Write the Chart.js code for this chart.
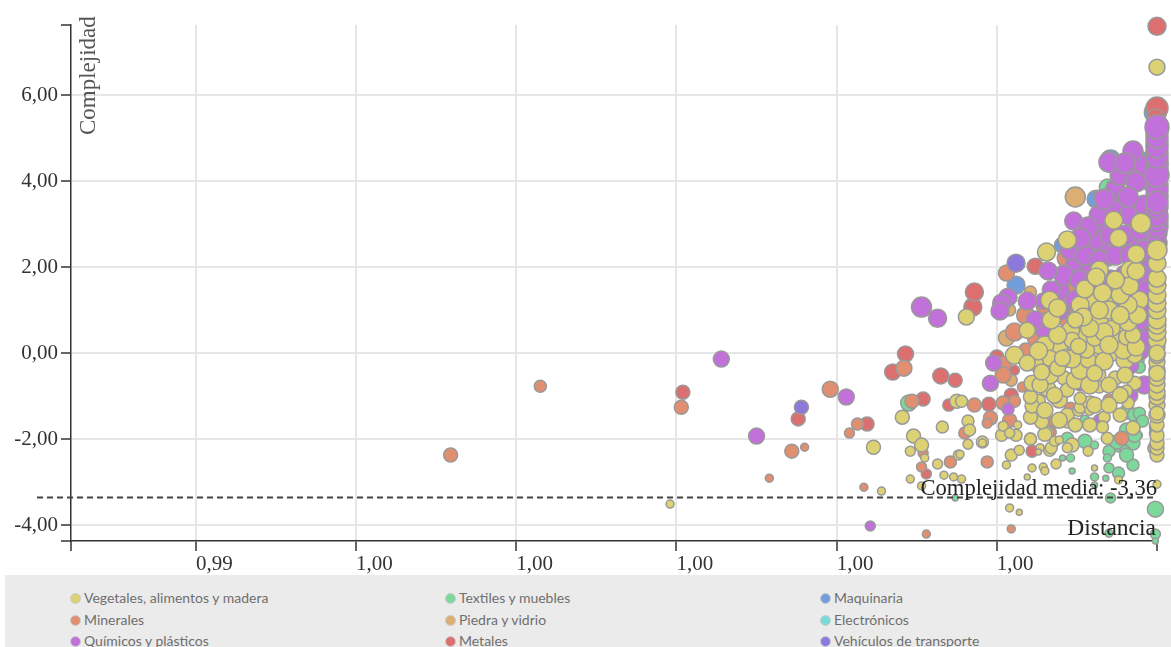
<!DOCTYPE html>
<html>
<head>
<meta charset="utf-8">
<script src="https://cdn.jsdelivr.net/npm/chart.js@4"></script>
<style>
  body { margin: 0; background: #fff; width: 1171px; height: 647px; overflow: hidden; position: relative; }
  #chart { position: absolute; left: 0; top: 0; }
  #legend { position: absolute; left: 5px; top: 575px; width: 1166px; height: 72px; background: #ebebeb; overflow: hidden;
    font: 14px Lato, "Noto Sans", sans-serif; color: #6f6f6f; }
  #legend div { position: absolute; white-space: nowrap; line-height: 16px; }
  #legend i { display: inline-block; width: 9px; height: 9px; border-radius: 50%; margin-right: 3px; border: 1px solid #ccc; vertical-align: -1px; }
</style>
</head>
<body>
<canvas id="chart" width="1171" height="575"></canvas>
<div id="legend"></div>
<script>
// valores: [distancia, complejidad, radio]
const categories = ["Vegetales, alimentos y madera", "Textiles y muebles", "Maquinaria", "Minerales", "Piedra y vidrio", "Electrónicos", "Químicos y plásticos", "Metales", "Vehículos de transporte"];
const colors = ["#dcd274", "#7cd99b", "#729fdc", "#e08f70", "#dcae74", "#7adada", "#c270da", "#dc7070", "#8d78dc"];
const drawOrder = [0, 7, 6, 3, 4, 8, 2, 5, 1];

const xTicks = [0.99422, 0.995, 0.996, 0.997, 0.998, 0.999, 1, 1.001];
const xLabels = ["", "0,99", "1,00", "1,00", "1,00", "1,00", "1,00", ""];
const yTicks = [7.63, 6, 4, 2, 0, -2, -4, -4.37];
const yLabels = ["", "6,00", "4,00", "2,00", "0,00", "-2,00", "-4,00", ""];
const meanComplexity = -3.36;

const vegetales = [
  [0.99796,-3.51,4],[0.99928,-3.21,4],[0.99946,-2.93,4],[0.99967,-2.84,4],[0.99973,-2.88,4],[0.99978,-2.93,4],
  [0.99963,-2.58,5],[0.99976,-2.37,5],[0.99977,-2.35,4],[0.99982,-2.12,5],[0.99991,-2.07,6],[0.99991,-2.09,4],
  [0.99946,-2.28,5],[0.99948,-1.93,7],[0.99953,-2.14,7],[0.99955,-2.44,4],[0.99966,-1.72,6],[0.99982,-1.58,6],
  [0.99983,-1.79,6],[0.99941,-1.49,7],[0.99975,-1.12,7],[0.99978,-1.12,6],[0.99981,0.84,8],[0.99923,-2.19,7],
  [0.99953,-3.09,4],[1.00008,-3.6,4],[1.00014,-3.7,3],[1.00003,-1.91,6],[1.00009,-2.37,6],[1.00006,-2.6,4],
  [1.00014,-2.26,5],[1.00019,-2.88,3],[1.00022,-2.67,4],[1.00029,-2.65,4],[1.0003,-2.74,4],[1.00037,-2.58,5],
  [1.00004,-1.7,5],[1.00013,-1.67,4],[1.00012,-1.91,6],[1.00008,-1.86,5],[1.00021,-2,6],[1.00031,-1.86,7],
  [1.00027,-2.2,4],[1.00033,-2.26,6],[1.00037,-2.07,4],[1.00026,-2.3,3],[1.00047,-2.14,7],[1.00044,-2.2,5],
  [1.00057,-2.28,5],[1.00061,-2.67,3],[1.00076,-2.95,4],[1.00034,-2.2,6],[1.00036,-2.05,5],[1.00039,-2.02,4],
  [1.00021,-2,6],[1.0003,-1.89,7],[1.00028,-1.6,7],[1.00021,-1.49,7],[1.00044,-1.6,6],[1.00044,-1.44,7],
  [1.00051,-1.33,6],[1.00052,-1.26,6],[1.00058,-1.16,7],[1.00058,-1.33,5],[1.00039,-1.09,8],[1.00026,-1.12,7],
  [1.00022,-1.23,7],[1.00021,-1.02,7],[1.00022,-0.7,8],[1.00031,-0.58,7],[1.00042,-0.58,7],[1.00032,-0.84,8],
  [1.00044,-0.86,7],[1.00052,-1.05,6],[1.00063,-0.51,8],[1.00064,-0.79,6],[1.00074,-0.58,7],[1.00086,-0.7,7],
  [1.00076,-0.91,6],[1.00067,-1.49,6],[1.00077,-1.44,7],[1.00066,-1.72,6],[1.00069,-1.98,6],[1.00085,-1.74,7],
  [1.00082,-1.16,6],[1.00081,-0.88,6],
  [1.00033,1.23,9],[1.00061,1.23,9],[1.0007,1.12,9],[1.00077,0.77,9],[1.00064,0.77,9],[1.00049,0.77,9],[1.00055,0.42,9],
  [1.00062,0.07,9],[1.00072,0.02,9],[1.0008,-0.16,9],[1.00046,0.07,9],[1.00039,0.19,9],[1.0003,0.19,9],[1.00033,-0.51,9],
  [1.00049,-0.63,9],[1.00058,-0.74,9],[1.0007,-0.74,8],[1.00077,-0.98,8],[1.00036,-0.98,8],[1.00027,-0.74,8],[1.00061,-1.21,8],
  [1.0007,-1.21,8],[1.0003,-1.33,8],[1.00039,-1.56,8],[1.00049,-1.67,7],[1.00058,-1.67,7],[1.0008,0.19,9],[1.00086,-0.05,8],
  [1.00089,1.23,9],[1.00083,1.93,9],[1.00064,1.93,9],[1.00052,1.12,9],[1.00046,0.53,9],[1.00076,0.42,9],[1.00064,0.19,9],
  [1.00052,-0.4,9],[1.00057,-0.16,8],[1.00033,-0.12,8],[1.00024,-0.23,8],
  [1.00028,-0.44,8],[1.00044,-0.12,9],[1.00056,0.07,8],[1.00079,0.07,9],[1.00072,0.58,8],[1.00081,0.37,8],
  [1.00061,0.35,8],[1.00047,0.3,8],[1.00087,0.14,9],[1.00085,0.42,8],[1.00082,0.72,9],[1.00067,0.49,9],
  [1.00038,0.42,9],[1.00058,0.58,9],[1.00034,0.77,9],[1.00019,0.53,8],[1.00054,0.84,9],[1.00088,0.88,9],
  [1.00038,1.05,9],[1.0007,1,9],[1.00082,1.12,9],[1.00064,1,9],[1.00049,0.77,8],[1.00077,0.88,9],
  [1.00074,1.65,9],[1.00055,1.49,9],[1.00066,1.4,9],[1.00077,1.35,9],[1.00083,1.56,9],[1.00062,1.77,9],
  [1.00074,1.7,9],[1.00026,0.05,9],[1.00011,-0.05,9],[1.00019,-0.23,8],[1.00047,-0.14,9],[1.00067,-0.19,9],
  [1.00038,-0.35,8],[1.0007,0.19,9],[1.00051,0.16,8],[1.00041,-0.12,8],[1.00061,-0.47,8],[1.0008,-0.51,8],
  [1.00087,1.91,9],[1.00087,2.3,9],[1.00076,2.67,9],[1.00073,3.09,9],[1.0009,3.02,10],[1.00044,2.63,9],
  [1.00031,2.35,9],[1.001,6.65,8],[1.001,-3.05,4],[1.001,-2.37,7],[1.001,-2.21,7],[1.001,-2.09,7],[1.001,-1.91,7],[1.001,-1.67,7],
  [1.001,-1.44,8],[1.001,-1.21,8],[1.001,-1.02,8],[1.001,-0.91,8],[1.001,-0.74,8],[1.001,-0.58,8],[1.001,-0.4,8],[1.001,-0.21,8],
  [1.001,-0.05,8],[1.001,0.14,8],[1.001,0.3,9],[1.001,0.49,9],[1.001,0.65,9],[1.001,0.77,9],[1.001,1,9],
  [1.001,1.16,9],[1.001,1.35,9],[1.001,1.58,9],[1.001,1.74,9],[1.001,2.09,9],[1.001,2.4,10],[1.001,0,8],[1.001,-0.47,8],[1.001,-1.4,7]
];
const textiles = [
  [0.99945,-1.16,8],[0.99974,-3.37,3],[1.00071,-3.37,5],[1.00099,-3.63,8],[1.0007,-4.19,4],[1.00099,-4.21,5],[1.00099,-4.37,3],
  [1.00055,-2.05,7],[1.00044,-1.98,6],[1.00061,-2.14,4],[1.00047,-2.74,3],[1.00061,-2.88,4],[1.00068,-2.91,3],[1.0007,-2.28,6],
  [1.00076,-2.21,4],[1.00085,-2.09,7],[1.00085,-2.6,6],[1.00076,-2.79,6],[1.0007,-2.67,5],[1.00069,-2.44,4],[1.00046,-2.44,4],
  [1.00041,-2.44,3],[1.00081,-1.37,7],[1.00086,-1.44,7],[1.00089,-1.91,3],[1.00087,-1.67,5],[1.0008,-2.26,5],[1.00099,-1.72,6],
  [1.00099,-1.86,6],[1.00055,-1.56,5],[1.00089,-1.4,6],[1.00087,-0.16,8],[1.00089,-0.33,6],[1.00061,-3.07,3],[1.00069,3.86,8],
  [1.00081,-1.79,7],[1.00086,-1.91,7],[1.00081,-2.37,7],[1.00075,-2.07,7],[1.00091,-1.58,6]
];
const maquinaria = [
  [1.00071,4.49,10],[1.00062,3.58,9],[1.00076,4.19,8],[1.00091,4.49,8],[1.00041,2.51,8],[1.00099,5.6,11],[1.00012,1.58,9]
];
const minerales = [
  [0.99659,-2.37,7],[0.99715,-0.77,6],[0.99803,-1.26,7],[0.99872,-2.28,7],[0.9988,-2.19,4],[0.99858,-2.91,4],[0.99896,-0.84,8],
  [0.99908,-1.86,5],[0.99913,-1.65,6],[0.99942,-0.35,8],[0.99947,-1.12,7],[0.99986,-1.21,7],[0.99996,-1.51,7],[0.99994,-1.63,5],
  [0.9998,-1.86,6],[0.99994,-2.53,6],[0.99971,-2.53,6],[0.99953,-2.65,5],[0.99954,-2.33,5],[0.99956,-4.21,4],[1.00009,-4.09,4],
  [0.99917,-3.12,4],[1.00044,2.21,10],[1.00061,2.28,10],[1.00069,2.23,9],[1.00006,1.86,8],[1.00052,1.77,9],[1.00046,1.19,9],
  [1.00018,0.88,9],[1.00044,0.81,9],[1.00011,0.49,9],[1.00027,0.53,9],[1.00024,0.35,8],[1.00004,-0.26,8],[1.00004,-0.51,8],
  [1.00018,0.07,7],[1.00004,-1.16,7],[1.00011,-1.12,6],[1.00008,-1.56,7],[1.00036,-1.6,6],[1.00046,-1.28,6],[1.0007,-1.09,6],
  [1.00078,-1.98,7],[1.00016,-0.79,5],[1.00034,-1.84,5],[1.0003,1.12,9],[1.00046,1.58,9]
];
const piedra = [
  [1.00049,3.63,10],[1.00076,3.86,6],[1.00088,4.3,8],[1.00006,0.35,8],[1.00041,1.65,5],[1.00021,1.42,6],[1.00008,1,6],
  [1.00009,-0.63,6],[1.00098,-2.21,6]
];
const electronicos = [
  [1.00081,2.51,5],[1.00071,1.47,5]
];
const quimicos = [
  [0.99828,-0.14,8],[0.9985,-1.93,8],[0.99906,-1.02,8],[0.99921,-4.02,5],[0.99953,1.07,10],[0.99963,0.81,9],
  [1.00039,1.47,10],[1.00049,2.05,10],[1.00058,2.05,10],[1.00067,2.51,10],[1.00077,2.51,10],[1.00086,2.63,10],[1.00064,2.98,10],
  [1.00095,3.21,10],[1.00095,2.74,10],[1.00095,2.16,10],[1.00095,4.02,10],[1.00095,1.93,10],[1.00092,1.12,10],[1.00092,0.65,10],
  [1.00089,0.07,10],[1.00083,-0.28,9],[1.00039,0.07,9],[1.0003,0.53,9],[1.00024,0.77,9],[1.0003,-0.05,9],
  [1.00064,3.21,10],[1.00074,3.33,10],[1.00083,3.21,10],[1.00092,3.44,10],[1.00061,2.63,10],[1.00071,2.74,10],[1.0008,2.74,10],
  [1.00089,2.86,10],[1.00046,2.4,10],[1.00055,2.28,10],[1.00064,2.16,10],[1.00074,2.28,10],[1.00083,2.28,10],[1.00092,2.4,10],
  [1.00042,1.81,10],[1.00052,1.7,10],[1.00061,1.7,10],[1.00071,1.7,10],[1.0008,1.81,10],[1.00089,1.81,10],[1.00049,1.23,10],
  [1.00058,1.23,10],[1.00067,1.23,10],[1.00077,1.23,10],[1.00086,1.35,10],[1.00094,1.47,10],[1.00039,1,10],[1.00089,0.77,10],
  [1.00094,0.3,10],[1.00092,-0.74,9],[1.00083,-0.98,8],[1.00074,3.79,10],[1.00083,4.14,10],[1.00092,4.37,10],[1.00077,4.14,10],
  [1.00052,-0.74,6],[1.00064,-1.56,6],[1.0007,4.44,10],
  [1.00085,4.7,10],[1.0008,4.42,10],[1.00087,3.98,10],[1.00082,3.63,10],[1.00067,3.58,10],[1.00048,3.07,9],[1.00057,2.93,10],
  [1.00052,2.67,10],[1.00032,1.91,9],[1.00034,1.47,9],[1.00029,1.21,8],[1.00019,1.21,9],[1.00007,1.3,9],[1.00003,1.16,9],
  [1.00002,0.98,9],[0.99998,-0.23,8],[0.99996,-0.7,8],[1.00007,-1.3,6],
  [1.001,2.56,10],[1.001,2.79,10],[1.001,2.95,11],[1.001,3.09,11],[1.001,3.2,11],[1.001,3.4,11],[1.001,3.65,11],[1.001,3.91,11],
  [1.001,4.26,11],[1.001,4.44,11],[1.001,4.67,11],[1.001,4.9,11],[1.001,5.14,11],[1.001,3.79,11],[1.001,4.37,11],[1.001,3.51,11],
  [1.001,4.14,12],[1.001,4.56,11],[1.001,4.79,11],[1.001,5.02,11],[1.001,5.26,12]
];
const metales = [
  [1.001,7.6,9],[1.001,5.7,11],[1.00099,5.49,8],[0.99943,-0.02,8],[0.99935,-0.44,8],[0.99965,-0.53,8],[0.99974,-0.63,7],
  [0.99985,1.07,9],[0.99986,1.42,9],[0.99954,-1.07,7],[0.99919,-1.65,7],[0.99876,-1.53,7],[0.9997,-1.21,6],[0.99995,-1.19,7],
  [0.99804,-0.91,7],[1.00024,2.02,8],[1,-0.09,7],[1.00009,-0.98,7],[1.00022,-2.28,6],[0.99956,-2.81,5],[1.00072,3.91,5],
  [1.00011,-0.4,5],[1.00064,3.65,6],[1.00083,4.7,6],[1.001,5.02,8]
];
const vehiculos = [
  [0.99878,-1.26,7],[1.00012,2.09,9]
];
const seriesData = [vegetales, textiles, maquinaria, minerales, piedra, electronicos, quimicos, metales, vehiculos];

// lineas de la grilla hasta el borde, media y rotulos
const extras = {
  id: "extras",
  beforeDatasetsDraw(chart) {
    const { ctx, chartArea, scales: { y } } = chart;
    ctx.save();
    ctx.strokeStyle = "#e6e6e6";
    ctx.lineWidth = 2;
    yTicks.slice(1, -1).forEach(v => {
      const py = y.getPixelForValue(v);
      ctx.beginPath();
      ctx.moveTo(chartArea.right, py);
      ctx.lineTo(chart.width, py);
      ctx.stroke();
    });
    ctx.restore();
  },
  afterDatasetsDraw(chart) {
    const { ctx, chartArea, scales: { y } } = chart;
    const my = y.getPixelForValue(meanComplexity);
    ctx.save();
    ctx.strokeStyle = "#444";
    ctx.lineWidth = 2;
    ctx.setLineDash([6, 4]);
    ctx.beginPath();
    ctx.moveTo(37, my);
    ctx.lineTo(chartArea.right - 2, my);
    ctx.stroke();
    ctx.setLineDash([]);
    ctx.fillStyle = "#222";
    ctx.font = "22.6px 'Liberation Serif'";
    ctx.textAlign = "right";
    ctx.fillText("Complejidad media: -3,36", chartArea.right, my - 3);
    ctx.font = "23.5px 'Liberation Serif'";
    ctx.fillText("Distancia", chartArea.right - 1, my + 37);
    ctx.fillStyle = "#555";
    ctx.font = "23px 'Liberation Serif'";
    ctx.translate(95, 135);
    ctx.rotate(-Math.PI / 2);
    ctx.textAlign = "left";
    ctx.fillText("Complejidad", 0, 0);
    ctx.restore();
  }
};

new Chart(document.getElementById("chart"), {
  type: "bubble",
  data: {
    datasets: seriesData.map((rows, i) => ({
      label: categories[i],
      data: rows.map(d => ({ x: d[0], y: d[1], r: d[2] })),
      backgroundColor: colors[i],
      borderColor: "#999",
      borderWidth: 1.5,
      order: drawOrder[i],
      clip: false
    }))
  },
  options: {
    responsive: false,
    animation: false,
    layout: { padding: { top: 25, right: 14 } },
    plugins: { legend: { display: false }, tooltip: { enabled: false } },
    scales: {
      x: {
        type: "linear",
        min: xTicks[0],
        max: xTicks[xTicks.length - 1],
        afterBuildTicks: s => { s.ticks = xTicks.map(v => ({ value: v })); },
        afterFit: s => { s.height = 34; },
        border: { color: "#333", width: 1.5 },
        grid: {
          color: c => (c.index === 0 || c.index === xTicks.length - 1) ? "transparent" : "#e6e6e6",
          lineWidth: 2,
          tickColor: "#333",
          tickWidth: 1.5,
          tickLength: 10
        },
        ticks: {
          autoSkip: false,
          maxRotation: 0,
          align: "start",
          padding: 1,
          color: "#333",
          font: { family: "Liberation Serif", size: 21 },
          callback: (v, i) => xLabels[i]
        }
      },
      y: {
        min: yTicks[yTicks.length - 1],
        max: yTicks[0],
        afterBuildTicks: s => { s.ticks = yTicks.map(v => ({ value: v })); },
        afterFit: s => { s.width = 71; },
        border: { color: "#333", width: 1.5 },
        grid: {
          color: c => (c.index === 0 || c.index === yTicks.length - 1) ? "transparent" : "#e6e6e6",
          lineWidth: 2,
          tickColor: "#333",
          tickWidth: 1.5,
          tickLength: 10
        },
        ticks: {
          autoSkip: false,
          padding: 3,
          color: "#333",
          font: { family: "Liberation Serif", size: 21 },
          callback: (v, i) => yLabels[i]
        }
      }
    }
  },
  plugins: [extras]
});

// leyenda en tres columnas
const legendEl = document.getElementById("legend");
categories.forEach((name, i) => {
  const item = document.createElement("div");
  item.style.left = (65 + (i % 3) * 375) + "px";
  item.style.top = (15 + Math.floor(i / 3) * 21.5) + "px";
  item.innerHTML = '<i style="background:' + colors[i] + '"></i>' + name;
  legendEl.appendChild(item);
});
</script>
</body>
</html>
